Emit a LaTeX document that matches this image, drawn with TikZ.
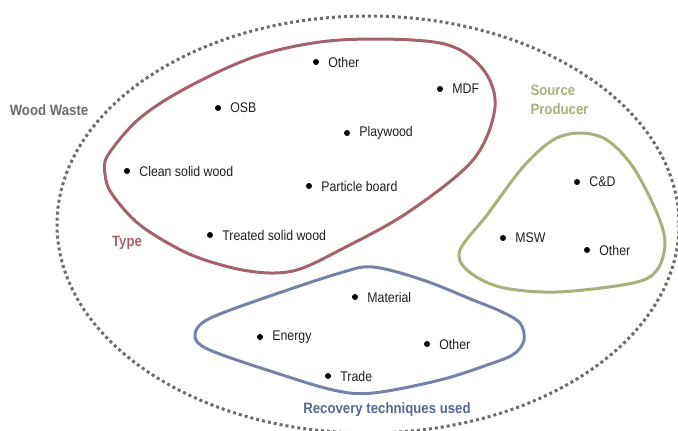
\documentclass[tikz,border=0pt]{standalone}
\usepackage{fontspec}
\setmainfont[FakeStretch=0.88]{Liberation Sans}
\usetikzlibrary{positioning}
\definecolor{wastecol}{RGB}{108,108,104}
\definecolor{typecol}{RGB}{166,98,108}
\definecolor{sourcecol}{RGB}{168,176,124}
\definecolor{recovcol}{RGB}{118,130,170}
\definecolor{recovtext}{RGB}{88,104,150}
\definecolor{txtcol}{RGB}{30,30,30}

\begin{document}
\begin{tikzpicture}[x=1pt,y=-1pt,label distance=7pt,
                    every node/.style={font=\fontsize{14}{16}\selectfont,text=txtcol},
                    every label/.style={inner sep=2pt},
                    item/.style={circle,fill=black,inner sep=0pt,minimum size=6pt},
                    blob/.style={line width=3pt},
                    head/.style={font=\bfseries\fontsize{15}{19}\selectfont}]
\useasboundingbox (0,0) rectangle (678,431);

\draw[wastecol,line width=3pt,dash pattern=on 3pt off 3pt] (368,224.5) ellipse [x radius=311, y radius=208.5];

\draw[blob,typecol] plot[smooth cycle,tension=0.55] coordinates {(108,155) (140,118) (190,86) (260,55) (340,40) (440,43) (482,68) (495,107) (473,160) (407,213) (340,250) (300,269) (270,273) (233,268) (187,253) (140,225) (112,194) (105,174)};
\draw[blob,sourcecol] plot[smooth cycle,tension=0.55] coordinates {(487,215) (523,167) (553,140) (580,133) (607,140) (633,167) (657,213) (665,243) (657,270) (633,283) (557,292) (500,287) (467,270) (460,250)};
\draw[blob,recovcol] plot[smooth cycle,tension=0.55] coordinates {(340,273) (267,297) (215,316) (198,327) (196,340) (212,351) (267,370) (333,390) (373,393) (440,380) (490,364) (514,354) (524,340) (520,323) (500,311) (473,300) (423,280) (373,267)};

\node[head,text=wastecol] (waste) at (49,110) {Wood Waste};
\node[head,text=typecol] (type) at (127,243) {Type};
\node[head,text=sourcecol,align=left,anchor=west] (source) at (527,100) {Source\\Producer};
\node[head,text=recovtext] (recov) at (387,410) {Recovery techniques used};

\node[item,label=right:Other] (typeother) at (316,62) {};
\node[item,label=right:OSB] (osb) at (218,108) {};
\node[item,label=right:MDF] (mdf) at (440,89) {};
\node[item,label=right:Playwood] (playwood) at (347,133) {};
\node[item,label=right:Clean solid wood] (clean) at (127,171) {};
\node[item,label=right:Particle board] (particle) at (309,186) {};
\node[item,label=right:Treated solid wood] (treated) at (210,235) {};

\node[item,label=right:C\&D] (cd) at (577,182) {};
\node[item,label=right:MSW] (msw) at (503,238) {};
\node[item,label=right:Other] (srcother) at (587,250) {};

\node[item,label=right:Material] (material) at (355,297) {};
\node[item,label=right:Energy] (energy) at (260,337) {};
\node[item,label=right:Other] (recother) at (427,344) {};
\node[item,label=right:Trade] (trade) at (328,376) {};

\end{tikzpicture}
\end{document}
